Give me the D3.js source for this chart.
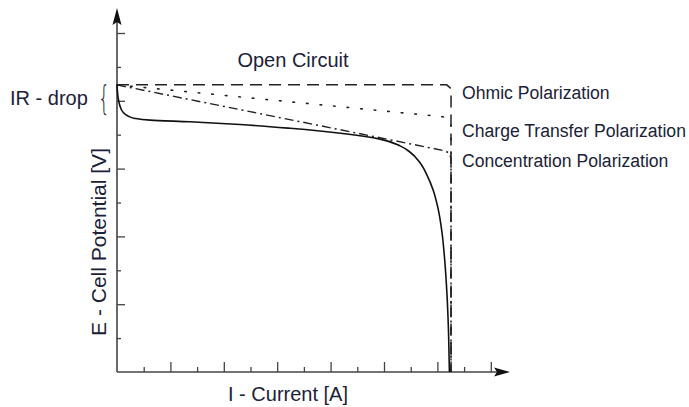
<!DOCTYPE html>
<html><head><meta charset="utf-8">
<script src="https://cdn.jsdelivr.net/npm/d3@7"></script>
<style>
html,body{margin:0;padding:0;background:#fff;}
svg{display:block;font-family:"Liberation Sans",Arial,sans-serif;}
</style></head>
<body>
<svg id="c" width="689" height="407"></svg>
<script>
// Data (arbitrary units: x in current ticks, y in potential ticks)
const xTicks = [1,2,3,4,5,6,7,8,9,10,11,12,13,14];
const yTicks = [1,2,3,4,5,6,7,8,9,10];
const openCircuit = [[0,8.47],[12.35,8.47],[12.48,8.38],[12.51,8.2],[12.51,0]];
const ohmic = [[0,8.47],[12.2,7.53],[12.45,7.45],[12.51,7.3],[12.51,0]];
const chargeTransfer = [[0,8.47],[12.3,6.52],[12.45,6.45],[12.51,6.3],[12.51,0]];
const cellCurve = [[0,8.47],[0.04,8.11],[0.11,7.85],[0.22,7.67],[0.41,7.55],[0.67,7.48],[1.24,7.43],[2.73,7.38],[4.61,7.30],[6.48,7.19],[8.61,7.02],[9.85,6.87],[10.6,6.67],[10.97,6.49],[11.35,6.17],[11.61,5.81],[11.84,5.37],[12.02,4.84],[12.17,4.13],[12.28,3.24],[12.36,2.27],[12.42,1.09],[12.45,0]];
const seriesLabels = ["Ohmic Polarization","Charge Transfer Polarization","Concentration Polarization"];
const labelBaselineY = [8.05,6.93,6.04];

const svg = d3.select("#c");
const x = d3.scaleLinear().domain([0,14]).range([117,490.8]);
const y = d3.scaleLinear().domain([0,10]).range([372,33]);
const axisCol = "#444";
const ink = "#111";
const txt = "#1b2238";

// axis lines with arrows
svg.append("line").attr("x1",x(0)).attr("y1",y(0)).attr("x2",x(0)).attr("y2",20).attr("stroke",axisCol).attr("stroke-width",1.6);
svg.append("line").attr("x1",x(0)).attr("y1",y(0)).attr("x2",500).attr("y2",y(0)).attr("stroke",axisCol).attr("stroke-width",1.6);
svg.append("path").attr("d",`M${x(0)},8 L${x(0)+4.5},25 L${x(0)},22 L${x(0)-4.5},25 Z`).attr("fill","#111");
svg.append("path").attr("d",`M510,${y(0)} L494,${y(0)-4.5} L497,${y(0)} L494,${y(0)+4.5} Z`).attr("fill","#111");

// ticks via axes
function styleAxis(g){g.select(".domain").remove();g.selectAll("text").remove();g.selectAll("line").attr("stroke",axisCol).attr("stroke-width",1.3);}
svg.append("g").attr("transform",`translate(${x(0)},0)`).call(d3.axisRight(y).tickValues(yTicks.filter(d=>d%2===0)).tickSize(8)).call(styleAxis);
svg.append("g").attr("transform",`translate(${x(0)},0)`).call(d3.axisRight(y).tickValues(yTicks.filter(d=>d%2===1)).tickSize(4)).call(styleAxis);
svg.append("g").attr("transform",`translate(0,${y(0)})`).call(d3.axisTop(x).tickValues(xTicks.filter(d=>d%2===0)).tickSize(10)).call(styleAxis);
svg.append("g").attr("transform",`translate(0,${y(0)})`).call(d3.axisTop(x).tickValues(xTicks.filter(d=>d%2===1)).tickSize(5)).call(styleAxis);

const line = d3.line().x(d=>x(d[0])).y(d=>y(d[1]));
svg.append("path").attr("d",line(openCircuit)).attr("fill","none").attr("stroke","#222").attr("stroke-width",1.5).attr("stroke-dasharray","12,7");
svg.append("path").attr("d",line(ohmic)).attr("fill","none").attr("stroke","#222").attr("stroke-width",1.6).attr("stroke-dasharray","1.6,12").attr("stroke-linecap","round");
svg.append("path").attr("d",line(chargeTransfer)).attr("fill","none").attr("stroke","#222").attr("stroke-width",1.5).attr("stroke-dasharray","9,4,2,4");
svg.append("path").attr("d",d3.line().x(d=>x(d[0])).y(d=>y(d[1])).curve(d3.curveMonotoneY)(cellCurve)).attr("fill","none").attr("stroke",ink).attr("stroke-width",1.6);

// texts
svg.append("text").attr("x",293).attr("y",67).attr("text-anchor","middle").attr("font-size",20).attr("fill",txt).text("Open Circuit");
svg.append("text").attr("x",10).attr("y",105).attr("font-size",20).attr("fill",txt).text("IR - drop");
svg.append("text").attr("transform","translate(104,110) scale(0.75,1.3)").attr("text-anchor","middle").attr("font-family","DejaVu Sans").attr("font-weight",200).attr("font-size",26).attr("fill","#333").text("{");
seriesLabels.forEach((s,i)=>{
  svg.append("text").attr("x",462).attr("y",y(labelBaselineY[i])).attr("font-size",17.6).attr("fill",txt).text(s);
});
svg.append("text").attr("x",288).attr("y",401).attr("text-anchor","middle").attr("font-size",20).attr("fill",txt).text("I - Current [A]");
svg.append("text").attr("transform","translate(106,242) rotate(-90)").attr("text-anchor","middle").attr("font-size",21).attr("fill",txt).text("E - Cell Potential [V]");
</script>
</body></html>
